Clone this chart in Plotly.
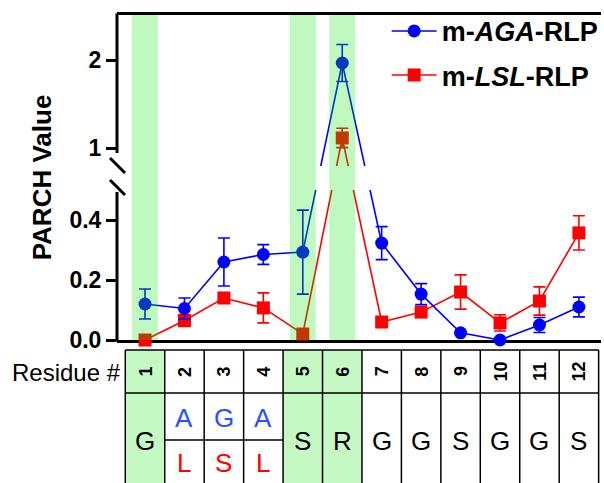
import plotly.graph_objects as go

# ---------------- data ----------------
residues = [1, 2, 3, 4, 5, 6, 7, 8, 9, 10, 11, 12]
aga_vals = [0.12, 0.105, 0.26, 0.285, 0.293, 1.966, 0.323, 0.153, 0.024, 0.0, 0.05, 0.11]
aga_err = [0.05, 0.035, 0.08, 0.033, 0.14, 0.21, 0.055, 0.035, 0.004, 0.004, 0.025, 0.033]
lsl_vals = [0.0, 0.065, 0.14, 0.107, 0.02, 1.114, 0.06, 0.093, 0.16, 0.057, 0.13, 0.357]
lsl_err = [0.004, 0.02, 0.01, 0.05, 0.01, 0.11, 0.01, 0.01, 0.057, 0.027, 0.047, 0.057]
seq_common = ["G", "", "", "", "S", "R", "G", "G", "S", "G", "G", "S"]
seq_aga = {2: "A", 3: "G", 4: "A"}
seq_lsl = {2: "L", 3: "S", 4: "L"}
highlight = [1, 5, 6]
ytick_vals = [0.0, 0.2, 0.4, 1.0, 2.0]
ytick_text = ["0.0", "0.2", "0.4", "1", "2"]

# ------------- broken-axis transform -------------
LOW_MAX = 0.5      # top of lower segment
S_LO = 300.0       # screen units per value (lower)
T1 = 192.0         # position of value 1 (upper)
S_HI = 88.0        # screen units per value (upper)
T_TOP = 325.0
GAP = (150.0, 174.0)


def T(v):
    return S_LO * v if v <= LOW_MAX else T1 + S_HI * (v - 1.0)


def tr(vals, errs):
    y = [T(v) for v in vals]
    plus = [T(v + e) - T(v) for v, e in zip(vals, errs)]
    minus = [T(v) - T(v - e) for v, e in zip(vals, errs)]
    return y, plus, minus


XMIN, XMAX = 0.29, 12.56
FONT = "Arial, Liberation Sans, sans-serif"
BLUE = "#0000ff"
RED = "#ff0000"
BAND = "rgba(0,230,0,0.25)"
CELL = "#c4f9c4"

fig = go.Figure()

for name, vals, errs, color, sym, rank in [
    ("<b>m-<i>LSL</i>-RLP</b>", lsl_vals, lsl_err, RED, "square", 2),
    ("<b>m-<i>AGA</i>-RLP</b>", aga_vals, aga_err, BLUE, "circle", 1),
]:
    y, p, m = tr(vals, errs)
    fig.add_trace(go.Scatter(
        x=residues, y=y, name=name, mode="lines+markers",
        line=dict(color=color, width=1.6),
        marker=dict(color=color, size=13, symbol=sym),
        error_y=dict(type="data", symmetric=False, array=p, arrayminus=m,
                     color=color, thickness=1.6, width=6),
        cliponaxis=False, legendrank=rank, legendgroup=name,
    ))

shapes = []
# gap hiding the lines
shapes.append(dict(type="rect", xref="x", yref="y", x0=XMIN, x1=XMAX,
                   y0=GAP[0], y1=GAP[1], fillcolor="white", line_width=0,
                   layer="above"))
# highlight bands
for r in highlight:
    shapes.append(dict(type="rect", xref="x", yref="y", x0=r - 0.33, x1=r + 0.33,
                       y0=0, y1=T_TOP, fillcolor=BAND, line_width=0, layer="above"))

# manual broken y axis line + break marks
def py(t):
    return t / T_TOP

shapes.append(dict(type="line", xref="paper", yref="paper", x0=0, x1=0,
                   y0=py(0) - 0.005, y1=py(148), line=dict(color="black", width=3)))
shapes.append(dict(type="line", xref="paper", yref="paper", x0=0, x1=0,
                   y0=py(187), y1=1.005, line=dict(color="black", width=3)))
for t0 in (182, 160):
    shapes.append(dict(type="line", xref="paper", yref="paper",
                       x0=-0.0144, x1=0.0165, y0=py(t0), y1=py(t0 - 15),
                       line=dict(color="black", width=3)))

# ---------------- table ----------------
def xp(xv):
    return (xv - XMIN) / (XMAX - XMIN)

def yp(pix):  # pixel row -> paper
    return (340.0 - pix) / 325.0

TOP, MID, SPLIT, BOT = 350, 393, 440, 500
for r in highlight:
    shapes.append(dict(type="rect", xref="paper", yref="paper",
                       x0=xp(r - 0.5), x1=xp(r + 0.5), y0=yp(BOT), y1=yp(TOP),
                       fillcolor=CELL, line_width=0, layer="below"))
tl = dict(color="black", width=1.5)
for k in range(13):
    xv = 0.5 + k
    shapes.append(dict(type="line", xref="paper", yref="paper", x0=xp(xv), x1=xp(xv),
                       y0=yp(BOT), y1=yp(TOP), line=tl))
for row in (TOP, MID):
    shapes.append(dict(type="line", xref="paper", yref="paper", x0=xp(0.5), x1=xp(12.5),
                       y0=yp(row), y1=yp(row), line=tl))
shapes.append(dict(type="line", xref="paper", yref="paper", x0=xp(1.5), x1=xp(4.5),
                   y0=yp(SPLIT), y1=yp(SPLIT), line=tl))

ann = []
ann.append(dict(text="Residue #", xref="paper", yref="paper", x=xp(0.45), y=yp(372),
                xanchor="right", yanchor="middle", showarrow=False,
                font=dict(family=FONT, size=24, color="black")))
for r in residues:
    ann.append(dict(text="<b>%d</b>" % r, xref="paper", yref="paper", x=xp(r),
                    y=yp((TOP + MID) / 2), textangle=-90, showarrow=False,
                    xanchor="center", yanchor="middle",
                    font=dict(family=FONT, size=18, color="black")))
    if seq_common[r - 1]:
        ann.append(dict(text=seq_common[r - 1], xref="paper", yref="paper", x=xp(r),
                        y=yp(441), showarrow=False, xanchor="center", yanchor="middle",
                        font=dict(family=FONT, size=26, color="black")))
    else:
        ann.append(dict(text=seq_aga[r], xref="paper", yref="paper", x=xp(r),
                        y=yp(418), showarrow=False, xanchor="center", yanchor="middle",
                        font=dict(family=FONT, size=26, color="#2a4fff")))
        ann.append(dict(text=seq_lsl[r], xref="paper", yref="paper", x=xp(r),
                        y=yp(463), showarrow=False, xanchor="center", yanchor="middle",
                        font=dict(family=FONT, size=26, color=RED)))

fig.update_layout(
    width=604, height=483,
    margin=dict(l=117, r=2, t=15, b=143),
    paper_bgcolor="white", plot_bgcolor="white",
    font=dict(family=FONT, color="black"),
    shapes=shapes, annotations=ann,
    showlegend=True,
    legend=dict(x=0.556, y=1.025, xanchor="left", yanchor="top",
                bgcolor="rgba(0,0,0,0)", font=dict(family=FONT, size=27, color="black"),
                tracegroupgap=6, itemwidth=45),
    xaxis=dict(range=[XMIN, XMAX], showline=True, mirror=True, linewidth=3,
               linecolor="black", showticklabels=False, ticks="", showgrid=False,
               zeroline=False, layer="below traces"),
    yaxis=dict(range=[0, T_TOP], showline=False, showgrid=False, zeroline=False,
               ticks="outside", ticklen=10, tickwidth=3, tickcolor="black",
               tickvals=[T(v) for v in ytick_vals], ticktext=ytick_text,
               tickfont=dict(family=FONT, size=23, color="black", weight="bold"),
               title=dict(text="<b>PARCH Value</b>", standoff=10,
                          font=dict(family=FONT, size=26, color="black"))),
)

fig.write_html("out.html")
